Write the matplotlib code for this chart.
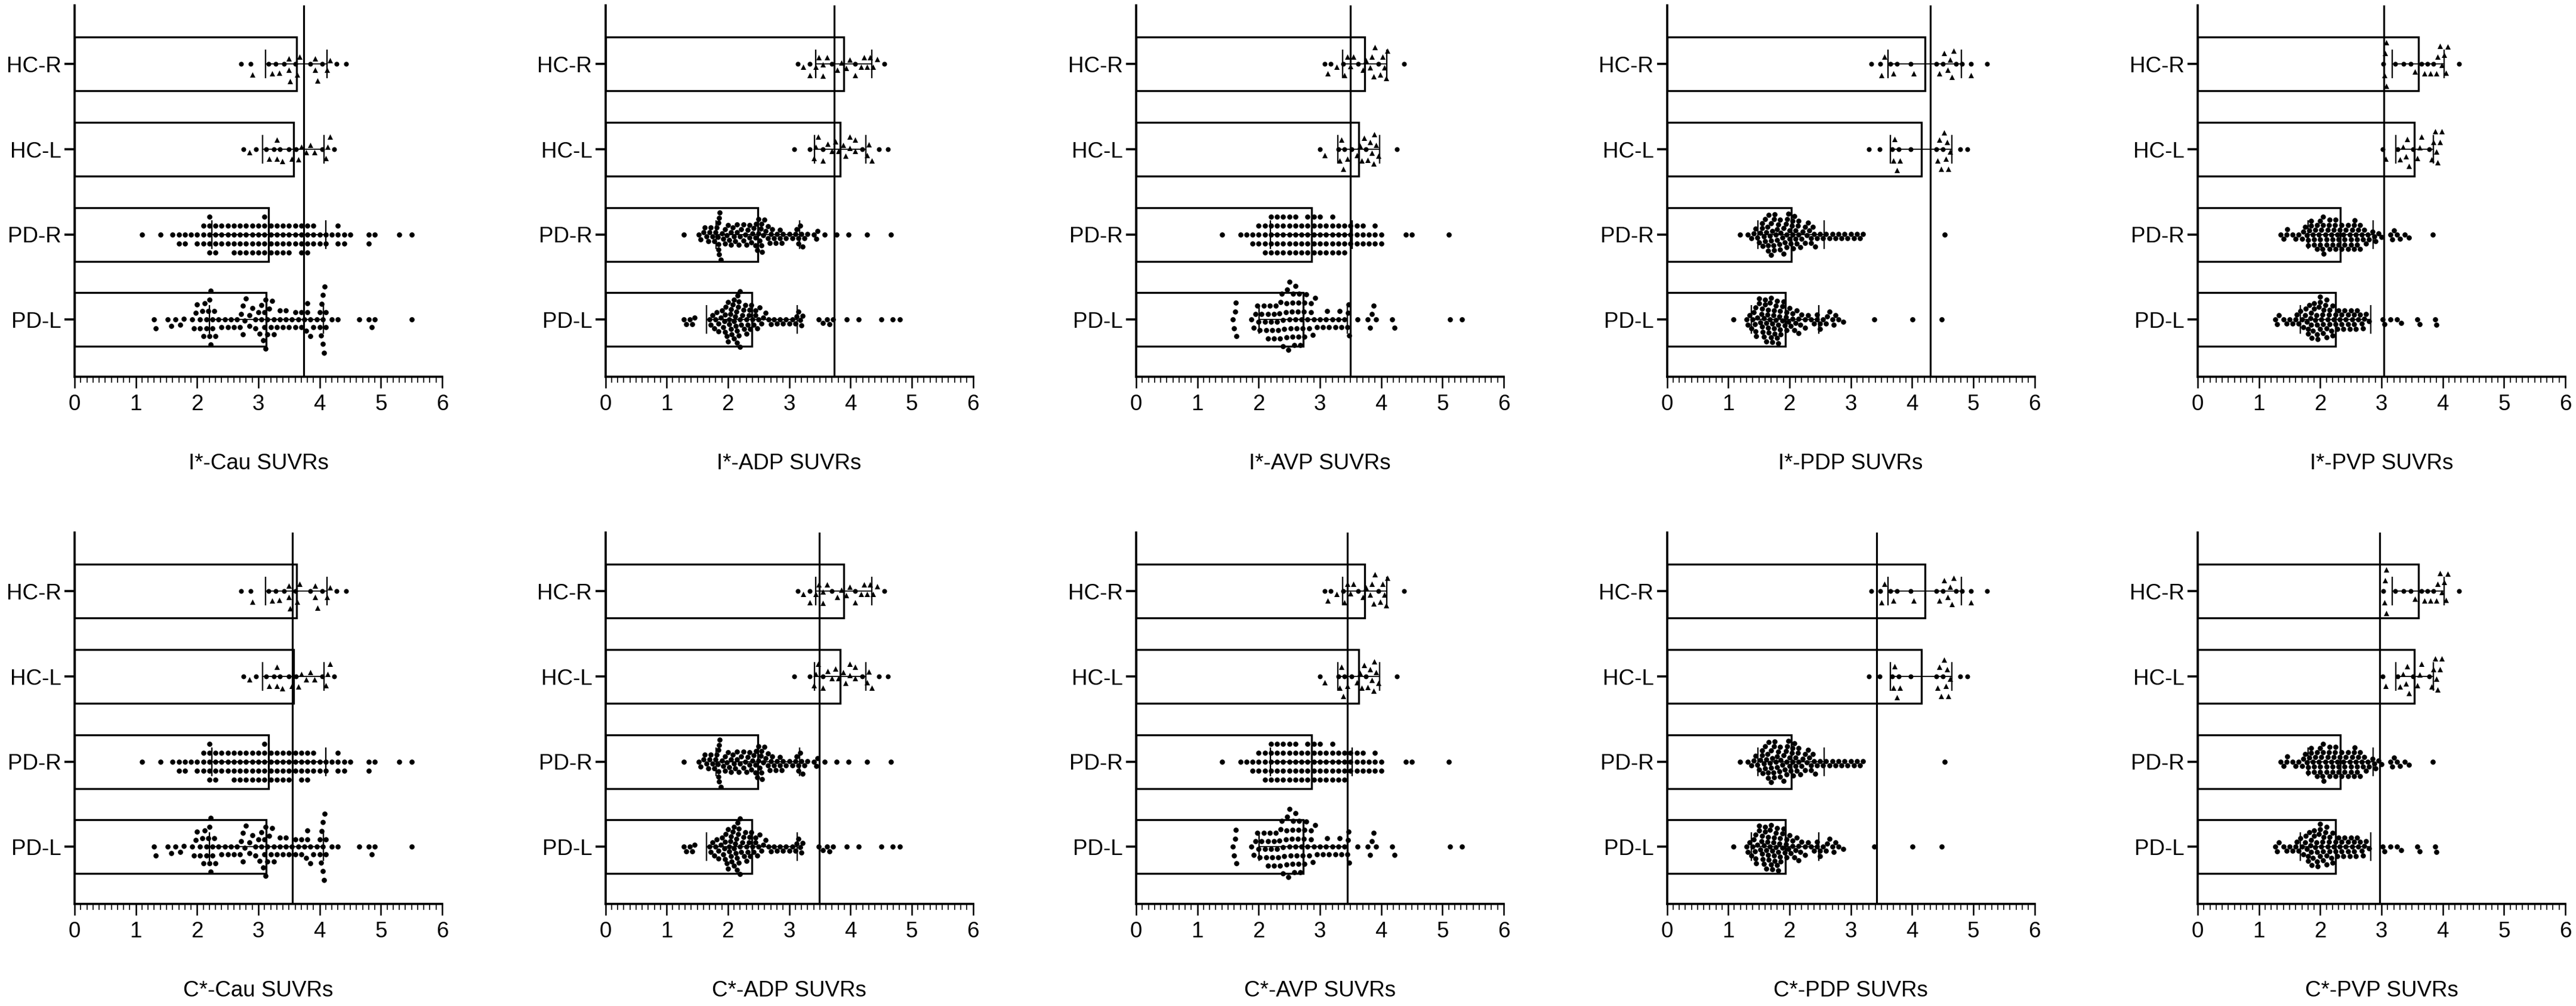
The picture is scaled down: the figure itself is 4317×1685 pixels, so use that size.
import numpy as np
import matplotlib
matplotlib.use('Agg')
import matplotlib.pyplot as plt
from matplotlib.ticker import MultipleLocator

plt.rcParams['font.family'] = ['Liberation Sans', 'DejaVu Sans']

# groups from bottom to top of each panel
groups = ['PD-L', 'PD-R', 'HC-L', 'HC-R']
regions = ['Cau', 'ADP', 'AVP', 'PDP', 'PVP']
prefixes = ['I*', 'C*']

# bar means and SD (order PD-L, PD-R, HC-L, HC-R)
cau_mean = [3.13, 3.17, 3.57, 3.62]
cau_sd = [0.93, 0.93, 0.50, 0.50]
adp_mean = [2.39, 2.49, 3.83, 3.89]
adp_sd = [0.74, 0.68, 0.42, 0.46]
avp_mean = [2.73, 2.86, 3.63, 3.73]
avp_sd = [0.72, 0.67, 0.34, 0.36]
pdp_mean = [1.93, 2.03, 4.15, 4.21]
pdp_sd = [0.55, 0.54, 0.50, 0.60]
pvp_mean = [2.25, 2.33, 3.54, 3.60]
pvp_sd = [0.57, 0.53, 0.31, 0.42]

# vertical reference lines, top row (I*) and bottom row (C*)
ref_i = [3.74, 3.74, 3.50, 4.30, 3.04]
ref_c = [3.56, 3.49, 3.45, 3.42, 2.97]

# individual SUVRs
cau_hc_r = [2.72, 2.87, 2.90, 3.17, 3.22, 3.28, 3.34, 3.42, 3.50, 3.50, 3.52, 3.60,
            3.63, 3.67, 3.85, 3.93, 3.93, 3.96, 4.04, 4.12, 4.17, 4.28, 4.43]
cau_hc_l = [2.76, 2.85, 2.96, 3.13, 3.18, 3.25, 3.30, 3.30, 3.35, 3.39, 3.50, 3.55,
            3.61, 3.65, 3.70, 3.78, 3.85, 3.92, 4.04, 4.10, 4.13, 4.17, 4.24]
cau_pd_r = [1.1, 1.4, 1.6, 1.7, 1.7, 1.8, 1.8, 1.9, 2.0, 2.0, 2.1, 2.1, 2.1,
            2.2, 2.2, 2.2, 2.2, 2.2, 2.3, 2.3, 2.3, 2.3, 2.4, 2.4, 2.4, 2.5, 2.5, 2.5,
            2.6, 2.6, 2.6, 2.6, 2.7, 2.7, 2.7, 2.7, 2.8, 2.8, 2.8, 2.8, 2.9, 2.9, 2.9, 2.9,
            3.0, 3.0, 3.0, 3.0, 3.1, 3.1, 3.1, 3.1, 3.1, 3.2, 3.2, 3.2, 3.2,
            3.3, 3.3, 3.3, 3.3, 3.4, 3.4, 3.4, 3.4, 3.5, 3.5, 3.5, 3.5, 3.6, 3.6, 3.6,
            3.7, 3.7, 3.7, 3.7, 3.8, 3.8, 3.8, 3.8, 3.9, 3.9, 3.9, 4.0, 4.0, 4.1, 4.1,
            4.2, 4.3, 4.3, 4.3, 4.4, 4.4, 4.5, 4.8, 4.8, 4.9, 5.3, 5.5]
cau_pd_l = [1.30, 1.32, 1.52, 1.58, 1.65, 1.72, 1.78, 1.92, 1.95, 1.98, 2.00, 2.05, 2.05,
            2.08, 2.10, 2.12, 2.15, 2.15, 2.18, 2.20, 2.20, 2.22, 2.22, 2.25, 2.25, 2.28,
            2.30, 2.35, 2.40, 2.45, 2.50, 2.55, 2.60, 2.65, 2.70, 2.72, 2.75, 2.75, 2.78,
            2.80, 2.85, 2.85, 2.90, 2.95, 2.95, 3.00, 3.02, 3.05, 3.05, 3.08, 3.10, 3.10,
            3.12, 3.12, 3.15, 3.15, 3.18, 3.20, 3.22, 3.25, 3.25, 3.30, 3.35, 3.35, 3.40,
            3.45, 3.45, 3.50, 3.55, 3.60, 3.60, 3.65, 3.70, 3.70, 3.75, 3.78, 3.80, 3.80,
            3.85, 3.85, 3.90, 3.95, 4.00, 4.00, 4.02, 4.03, 4.05, 4.05, 4.05, 4.07, 4.08,
            4.10, 4.10, 4.20, 4.30, 4.65, 4.80, 4.85, 4.90, 5.50]

adp_hc_r = [3.14, 3.23, 3.34, 3.34, 3.43, 3.48, 3.55, 3.55, 3.62, 3.70, 3.78, 3.85,
            3.93, 3.99, 4.08, 4.08, 4.17, 4.22, 4.27, 4.32, 4.37, 4.44, 4.55]
adp_hc_l = [3.08, 3.34, 3.40, 3.43, 3.47, 3.55, 3.55, 3.63, 3.70, 3.75, 3.80, 3.88,
            3.92, 3.99, 3.99, 4.08, 4.08, 4.19, 4.27, 4.30, 4.35, 4.47, 4.61]
adp_pd_r = [1.28, 1.52, 1.55, 1.60, 1.62, 1.65, 1.68, 1.70, 1.72, 1.75, 1.78, 1.80, 1.82,
            1.84, 1.85, 1.85, 1.85, 1.86, 1.86, 1.87, 1.88, 1.90, 1.92, 1.95, 1.95, 1.98,
            2.00, 2.02, 2.05, 2.05, 2.08, 2.10, 2.12, 2.15, 2.15, 2.18, 2.20, 2.22, 2.25,
            2.25, 2.28, 2.30, 2.32, 2.35, 2.35, 2.38, 2.40, 2.42, 2.45, 2.45, 2.46, 2.48,
            2.50, 2.50, 2.52, 2.54, 2.55, 2.55, 2.56, 2.58, 2.60, 2.62, 2.65, 2.65, 2.68,
            2.70, 2.72, 2.75, 2.78, 2.80, 2.85, 2.85, 2.88, 2.90, 2.95, 3.00, 3.05, 3.10,
            3.12, 3.15, 3.15, 3.18, 3.20, 3.22, 3.25, 3.30, 3.40, 3.44, 3.46, 3.58, 3.77,
            3.97, 4.27, 4.66]
adp_pd_l = [1.28, 1.32, 1.38, 1.42, 1.46, 1.70, 1.72, 1.75, 1.78, 1.80, 1.82, 1.85, 1.85,
            1.88, 1.90, 1.92, 1.94, 1.95, 1.95, 1.96, 1.98, 2.00, 2.00, 2.02, 2.02, 2.04,
            2.05, 2.05, 2.06, 2.08, 2.10, 2.10, 2.10, 2.12, 2.13, 2.14, 2.15, 2.15, 2.16,
            2.17, 2.18, 2.18, 2.20, 2.20, 2.20, 2.22, 2.24, 2.25, 2.26, 2.28, 2.30, 2.30,
            2.32, 2.34, 2.35, 2.36, 2.38, 2.40, 2.42, 2.45, 2.45, 2.48, 2.50, 2.52, 2.55,
            2.58, 2.62, 2.66, 2.70, 2.75, 2.80, 2.85, 2.90, 2.95, 3.00, 3.05, 3.10, 3.12,
            3.15, 3.18, 3.20, 3.22, 3.48, 3.55, 3.62, 3.66, 3.72, 3.94, 4.13, 4.50, 4.69,
            4.81]

avp_hc_r = [3.08, 3.13, 3.18, 3.27, 3.38, 3.40, 3.45, 3.50, 3.55, 3.62, 3.70, 3.75,
            3.82, 3.85, 3.88, 3.90, 3.95, 3.98, 4.02, 4.05, 4.08, 4.10, 4.37]
avp_hc_l = [3.00, 3.08, 3.30, 3.32, 3.35, 3.38, 3.40, 3.45, 3.52, 3.60, 3.65, 3.68,
            3.72, 3.75, 3.78, 3.82, 3.85, 3.88, 3.89, 3.92, 3.95, 4.26]
avp_pd_r = [1.4, 1.7, 1.8, 1.9, 1.9, 2.0, 2.0, 2.0, 2.1, 2.1, 2.1, 2.1,
            2.2, 2.2, 2.2, 2.2, 2.2, 2.3, 2.3, 2.3, 2.3, 2.3, 2.4, 2.4, 2.4, 2.4, 2.4,
            2.5, 2.5, 2.5, 2.5, 2.5, 2.6, 2.6, 2.6, 2.6, 2.6, 2.7, 2.7, 2.7, 2.7,
            2.8, 2.8, 2.8, 2.8, 2.8, 2.9, 2.9, 2.9, 2.9, 2.9, 3.0, 3.0, 3.0, 3.0, 3.0,
            3.1, 3.1, 3.1, 3.1, 3.2, 3.2, 3.2, 3.2, 3.2, 3.3, 3.3, 3.3, 3.3,
            3.4, 3.4, 3.4, 3.4, 3.5, 3.5, 3.5, 3.6, 3.6, 3.6, 3.7, 3.7, 3.7,
            3.8, 3.8, 3.9, 3.9, 3.9, 4.0, 4.0, 4.4, 4.5, 5.1]
avp_pd_l = [1.58, 1.60, 1.62, 1.63, 1.64, 1.88, 1.92, 1.95, 1.98, 2.00, 2.02, 2.05, 2.08,
            2.10, 2.12, 2.15, 2.15, 2.18, 2.20, 2.22, 2.25, 2.25, 2.28, 2.30, 2.32, 2.34,
            2.35, 2.36, 2.38, 2.40, 2.40, 2.42, 2.44, 2.45, 2.45, 2.46, 2.48, 2.50, 2.50,
            2.52, 2.54, 2.55, 2.55, 2.56, 2.58, 2.60, 2.60, 2.62, 2.64, 2.65, 2.65, 2.66,
            2.68, 2.70, 2.72, 2.74, 2.75, 2.75, 2.78, 2.80, 2.82, 2.85, 2.85, 2.88, 2.90,
            2.92, 2.95, 3.00, 3.05, 3.10, 3.12, 3.15, 3.20, 3.25, 3.30, 3.32, 3.35, 3.40,
            3.45, 3.46, 3.47, 3.48, 3.61, 3.78, 3.82, 3.85, 3.88, 3.92, 4.18, 4.22, 5.12,
            5.32]

pdp_hc_r = [3.34, 3.48, 3.50, 3.55, 3.65, 3.70, 3.75, 3.98, 4.03, 4.40, 4.45, 4.50,
            4.52, 4.58, 4.62, 4.65, 4.68, 4.72, 4.82, 4.96, 4.96, 5.23]
pdp_hc_l = [3.30, 3.47, 3.68, 3.70, 3.72, 3.75, 3.78, 3.80, 3.98, 4.40, 4.42, 4.45,
            4.48, 4.50, 4.52, 4.55, 4.57, 4.59, 4.62, 4.79, 4.90]
pdp_pd_r = [1.19, 1.32, 1.38, 1.42, 1.45, 1.48, 1.50, 1.52, 1.55, 1.55, 1.56, 1.58, 1.60,
            1.60, 1.62, 1.64, 1.65, 1.65, 1.66, 1.68, 1.70, 1.70, 1.70, 1.72, 1.74, 1.75,
            1.75, 1.76, 1.78, 1.80, 1.80, 1.82, 1.84, 1.85, 1.85, 1.86, 1.88, 1.90, 1.90,
            1.92, 1.94, 1.95, 1.95, 1.96, 1.98, 2.00, 2.00, 2.02, 2.04, 2.05, 2.05, 2.06,
            2.08, 2.10, 2.10, 2.12, 2.14, 2.15, 2.15, 2.18, 2.20, 2.22, 2.25, 2.25, 2.28,
            2.30, 2.32, 2.35, 2.35, 2.38, 2.40, 2.42, 2.45, 2.50, 2.55, 2.60, 2.65, 2.70,
            2.75, 2.80, 2.85, 2.90, 2.95, 3.00, 3.05, 3.10, 3.15, 3.20, 4.53]
pdp_pd_l = [1.09, 1.30, 1.32, 1.35, 1.38, 1.40, 1.42, 1.44, 1.45, 1.45, 1.46, 1.48, 1.50,
            1.50, 1.52, 1.54, 1.55, 1.55, 1.56, 1.58, 1.58, 1.60, 1.60, 1.62, 1.62, 1.64,
            1.65, 1.65, 1.66, 1.68, 1.68, 1.70, 1.70, 1.72, 1.72, 1.74, 1.75, 1.75, 1.76,
            1.78, 1.78, 1.80, 1.80, 1.82, 1.82, 1.84, 1.85, 1.85, 1.86, 1.88, 1.88, 1.90,
            1.92, 1.94, 1.95, 1.95, 1.98, 2.00, 2.02, 2.05, 2.05, 2.08, 2.10, 2.12, 2.15,
            2.15, 2.18, 2.20, 2.25, 2.25, 2.30, 2.35, 2.40, 2.45, 2.45, 2.50, 2.50, 2.55,
            2.60, 2.62, 2.65, 2.70, 2.72, 2.75, 2.80, 2.88, 3.38, 4.01, 4.49]

pvp_hc_r = [3.03, 3.05, 3.06, 3.08, 3.08, 3.22, 3.36, 3.48, 3.55, 3.65, 3.70, 3.75,
            3.80, 3.85, 3.90, 3.92, 3.95, 3.98, 4.02, 4.05, 4.08, 4.27]
pvp_hc_l = [3.02, 3.07, 3.26, 3.30, 3.35, 3.40, 3.42, 3.45, 3.52, 3.58, 3.62, 3.65,
            3.78, 3.82, 3.85, 3.88, 3.90, 3.92, 3.95, 3.98]
pvp_pd_r = [1.35, 1.40, 1.45, 1.46, 1.55, 1.60, 1.65, 1.70, 1.72, 1.75, 1.78, 1.80, 1.80,
            1.82, 1.85, 1.85, 1.88, 1.90, 1.90, 1.92, 1.95, 1.95, 1.98, 2.00, 2.00, 2.00,
            2.02, 2.04, 2.05, 2.05, 2.06, 2.08, 2.10, 2.10, 2.12, 2.14, 2.15, 2.15, 2.18,
            2.20, 2.20, 2.22, 2.24, 2.25, 2.25, 2.28, 2.30, 2.30, 2.32, 2.35, 2.35, 2.38,
            2.40, 2.40, 2.42, 2.45, 2.45, 2.48, 2.50, 2.50, 2.52, 2.55, 2.55, 2.56, 2.58,
            2.60, 2.60, 2.62, 2.65, 2.65, 2.68, 2.70, 2.72, 2.75, 2.78, 2.80, 2.85, 2.88,
            2.90, 2.95, 3.00, 3.15, 3.18, 3.20, 3.25, 3.30, 3.38, 3.45, 3.84]
pvp_pd_l = [1.27, 1.30, 1.32, 1.40, 1.45, 1.50, 1.55, 1.60, 1.62, 1.65, 1.68, 1.70, 1.72,
            1.75, 1.76, 1.78, 1.80, 1.80, 1.82, 1.84, 1.85, 1.85, 1.86, 1.88, 1.90, 1.90,
            1.92, 1.94, 1.95, 1.95, 1.96, 1.98, 2.00, 2.00, 2.00, 2.02, 2.04, 2.05, 2.05,
            2.06, 2.08, 2.10, 2.10, 2.10, 2.12, 2.14, 2.15, 2.15, 2.18, 2.20, 2.20, 2.22,
            2.25, 2.25, 2.28, 2.30, 2.32, 2.35, 2.35, 2.38, 2.40, 2.42, 2.45, 2.45, 2.48,
            2.50, 2.52, 2.55, 2.55, 2.58, 2.60, 2.62, 2.65, 2.68, 2.70, 2.72, 2.75, 2.80,
            3.02, 3.05, 3.15, 3.25, 3.32, 3.58, 3.62, 3.88, 3.90]

# lookup tables built from the lists above
points = {
    'Cau': [cau_pd_l, cau_pd_r, cau_hc_l, cau_hc_r],
    'ADP': [adp_pd_l, adp_pd_r, adp_hc_l, adp_hc_r],
    'AVP': [avp_pd_l, avp_pd_r, avp_hc_l, avp_hc_r],
    'PDP': [pdp_pd_l, pdp_pd_r, pdp_hc_l, pdp_hc_r],
    'PVP': [pvp_pd_l, pvp_pd_r, pvp_hc_l, pvp_hc_r],
}
means = {'Cau': cau_mean, 'ADP': adp_mean, 'AVP': avp_mean, 'PDP': pdp_mean, 'PVP': pvp_mean}
sds = {'Cau': cau_sd, 'ADP': adp_sd, 'AVP': avp_sd, 'PDP': pdp_sd, 'PVP': pvp_sd}
refs = {'I*': ref_i, 'C*': ref_c}

# vertical spacing of PD dots per region (px), gridded panels get looser stacks
pd_gap = {'Cau': 15, 'ADP': 8.5, 'AVP': 15, 'PDP': 8.5, 'PVP': 8.5}


def swarm(vals, sx, rx, ry):
    """Beeswarm offsets in pixels; sx = pixels per data unit along x."""
    vals = np.asarray(vals, dtype=float)
    order = np.argsort(vals, kind='stable')
    xs = vals * sx
    placed_x, placed_y = [], []
    offs = np.zeros(len(vals))
    for i in order:
        x = xs[i]
        cand = [0.0]
        for px, py in zip(placed_x, placed_y):
            dx = (x - px) / rx
            if abs(dx) < 1:
                dy = np.sqrt(1 - dx * dx) * ry
                cand += [py + dy, py - dy]
        cand.sort(key=lambda c: (abs(c), c))
        for c in cand:
            ok = True
            for px, py in zip(placed_x, placed_y):
                if ((x - px) / rx) ** 2 + ((c - py) / ry) ** 2 < 0.999:
                    ok = False
                    break
            if ok:
                break
        offs[i] = c
        placed_x.append(x)
        placed_y.append(c)
    return offs


W, H = 4317, 1685
fig = plt.figure(figsize=(W / 100, H / 100), dpi=100)

left0, step, axw, axh = 125, 889.5, 616, 622
row_bottom = [631, 1514]
ylo, yhi = -0.67, 3.69
sx = axw / 6.0
sy = axh / (yhi - ylo)

for r, pre in enumerate(prefixes):
    for c, reg in enumerate(regions):
        ax = fig.add_axes([(left0 + step * c) / W, 1 - row_bottom[r] / H, axw / W, axh / H])
        ypos = np.arange(4)
        ax.barh(ypos, means[reg], height=0.63, color='white', edgecolor='black',
                linewidth=2.4, zorder=1)
        ax.axvline(refs[pre][c], color='black', linewidth=2.3, zorder=2)
        for g in range(4):
            vals = np.asarray(points[reg][g])
            if g < 2:
                off = swarm(vals, sx, 9.0, pd_gap[reg])
                ax.scatter(vals, g + off / sy, s=39, marker='o', color='black',
                           linewidths=0, zorder=3)
            else:
                off = swarm(vals, sx, 9.5, 19.0)
                mid = np.abs(off) < 0.5
                ax.scatter(vals[~mid], g + off[~mid] / sy, s=42, marker='^',
                           color='black', linewidths=0, zorder=3)
                ax.scatter(vals[mid], g + off[mid] / sy, s=34, marker='o',
                           color='black', linewidths=0, zorder=3)
        ax.errorbar(means[reg], ypos, xerr=sds[reg], fmt='none', ecolor='black',
                    elinewidth=1.3, capsize=17, capthick=1.7, zorder=4)

        ax.set_xlim(0, 6)
        ax.set_ylim(ylo, yhi)
        ax.set_xticks(range(7))
        ax.xaxis.set_minor_locator(MultipleLocator(0.1))
        ax.set_yticks(ypos)
        ax.set_yticklabels(groups)
        for side in ['top', 'right']:
            ax.spines[side].set_visible(False)
        for side in ['left', 'bottom']:
            ax.spines[side].set_linewidth(2.6)
        ax.tick_params(axis='x', which='major', length=14, width=1.8, labelsize=26.5, pad=7)
        ax.tick_params(axis='x', which='minor', length=7, width=1.2)
        ax.tick_params(axis='y', length=12, width=2.6, labelsize=26.5, pad=4)
        ax.set_xlabel(f'{pre}-{reg} SUVRs', fontsize=26.5)
        ax.xaxis.set_label_coords(0.5, -0.205)

fig.savefig('out.png', dpi=100)
